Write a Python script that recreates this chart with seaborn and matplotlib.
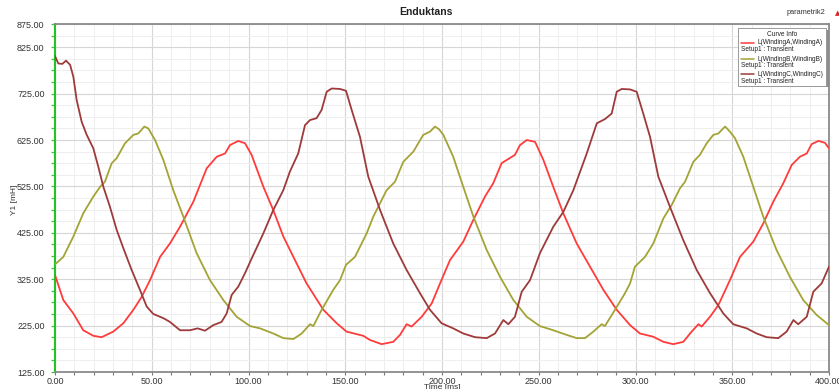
import numpy as np
import pandas as pd
import matplotlib
matplotlib.use("Agg")
import matplotlib.pyplot as plt
from matplotlib.patches import Rectangle
from matplotlib.lines import Line2D
from matplotlib.ticker import MultipleLocator, FixedLocator, FormatStrFormatter
import seaborn as sns

# Self-inductance of the three windings over one transient run
time_a = [0, 4.3, 9.5, 14.6, 19.8, 24.1, 30.1, 35.3, 40.5, 44.8, 49.1, 54.3, 59.4, 64.6, 71.5,
          78.4, 83.6, 87.9, 90.4, 94.7, 98.2, 101.6, 107.7, 112.8, 118, 123.2, 130, 138.7, 145.6,
          150.7, 159.3, 162.8, 168.8, 174.8, 178.3, 181.7, 184.3, 189.5, 194.7, 199, 204.1, 211,
          216.2, 222.2, 226.5, 230.8, 237.7, 240.3, 243.8, 248.1, 252.4, 257.5, 262.7, 269.6,
          276.5, 283.4, 290.3, 297.2, 302.3, 309.2, 314.4, 319.5, 324.7, 329, 332.5, 334.2, 338.5,
          342.8, 348.8, 354, 360.9, 366, 371.2, 376.4, 380.7, 385, 388.5, 391, 394.5, 397.9, 400]
ind_a = [334, 280, 251, 215, 203, 200, 212, 230, 259, 287, 323, 373, 402, 438, 492,
         564, 589, 596, 614, 623, 618, 593, 524, 474, 417, 373, 316, 259, 230,
         212, 203, 194, 185, 190, 205, 228, 223, 244, 273, 316, 366, 406,
         453, 503, 532, 575, 593, 614, 625, 621, 582, 524, 467, 402,
         352, 302, 259, 226, 208, 201, 190, 185, 190, 212, 228, 223, 244,
         269, 323, 373, 406, 445, 492, 532, 571, 589, 596, 616, 623, 619, 607]

time_b = [0, 4.3, 9.5, 14.6, 19.8, 23.3, 25.8, 29.3, 31.9, 36.2, 40.5, 43, 46.2, 48.2, 51.7,
          56, 61.1, 66.3, 73.2, 80.1, 87, 93.9, 100.8, 106, 112.8, 118, 123.2, 127.5, 131.8,
          133.5, 137.8, 143.8, 147.3, 150.4, 155, 161.1, 164.5, 171.4, 175.7, 180, 185.2, 190.3,
          193.8, 196.4, 198.5, 200.7, 205.8, 211, 216.2, 223.1, 230, 236.9, 243.8, 250.6, 257.5,
          264.4, 269.6, 273.9, 278.2, 282.5, 284.2, 289.4, 294.6, 297.2, 299.7, 304.9, 309.2,
          314.4, 318.7, 323, 325.6, 329.9, 333.3, 336.8, 340.2, 342.8, 346.3, 348.8, 351.4,
          355.7, 360.9, 366, 372.9, 379.8, 386.7, 393.6, 400]
ind_b = [357, 373, 417, 467, 503, 524, 535, 575, 586, 618, 636, 639, 654, 650, 625,
         582, 517, 460, 381, 323, 280, 244, 224, 219, 208, 198, 196, 208, 228,
         224, 259, 302, 323, 356, 373, 424, 460, 517, 535, 578, 600, 636,
         643, 654, 648, 636, 589, 524, 460, 388, 330, 280, 244, 224, 215,
         205, 198, 198, 212, 228, 224, 259, 295, 316, 352, 373, 402,
         456, 485, 521, 535, 578, 593, 618, 636, 639, 654, 643, 629,
         589, 524, 460, 388, 330, 280, 248, 226]

time_c = [0, 1.7, 3.8, 5.7, 7.8, 9.5, 11.2, 13.8, 16.4, 19.8, 22.4, 25, 28.4, 31.9, 35.3,
          39.6, 43.9, 47.4, 50.8, 56, 59.4, 64.6, 69.8, 73.7, 77.5, 81.8, 86.1, 88.7, 91.3,
          94.7, 98.2, 100.8, 107.7, 112.8, 118, 121.4, 125.7, 129.2, 131.8, 135.2, 137.8, 140.4,
          143, 147.3, 150.4, 153.3, 157.6, 161.9, 168, 174.8, 181.7, 188.6, 193.8, 199.8, 205.8,
          211, 217.1, 223.1, 227.4, 231.7, 234.3, 237.7, 241.2, 245.5, 250.6, 257.5, 262.7,
          267.9, 274.8, 280, 284.2, 287.7, 290.3, 292.9, 297.2, 300.6, 304, 307.5, 311.8, 317.8,
          324.7, 331.6, 338.5, 345.4, 350.5, 357.5, 362.6, 367.8, 373.8, 378.1, 381.6, 384.1,
          388.5, 391.9, 396.2, 400]
ind_c = [806, 790, 789, 796, 787, 761, 711, 664, 636, 607, 567, 524, 481, 431, 392,
         345, 302, 266, 250, 241, 233, 215, 215, 219, 214, 226, 233, 251, 291,
         309, 338, 362, 424, 474, 517, 557, 596, 657, 668, 672, 690, 729,
         736, 735, 731, 690, 632, 546, 474, 402, 345, 295, 259, 230, 219,
         208, 200, 198, 208, 237, 228, 244, 298, 323, 381, 438, 470,
         517, 596, 661, 670, 682, 729, 735, 734, 729, 682, 632, 546, 481,
         409, 345, 295, 251, 228, 219, 208, 200, 198, 212, 237, 228,
         244, 298, 316, 352]

curve_names = ["L(WindingA,WindingA)", "L(WindingB,WindingB)", "L(WindingC,WindingC)"]
curve_colors = ["#ff3b3b", "#a3a336", "#9e3a3a"]
y_ticks = [125, 225, 325, 425, 525, 625, 725, 825, 875]

sns.set_theme(style="white")
plt.rcParams["font.family"] = ["Liberation Sans", "DejaVu Sans"]
plt.rcParams["lines.solid_joinstyle"] = "round"
plt.rcParams["lines.solid_capstyle"] = "round"

fig = plt.figure(figsize=(8.39, 3.89), dpi=100)
ax = fig.add_axes([55 / 839, 1 - 372 / 389, 774 / 839, 348 / 389])

frames = []
for name, t, v in zip(curve_names, [time_a, time_b, time_c], [ind_a, ind_b, ind_c]):
    frames.append(pd.DataFrame({"time": t, "ind": v, "curve": name}))
data = pd.concat(frames, ignore_index=True)

sns.lineplot(data=data, x="time", y="ind", hue="curve", palette=curve_colors,
             hue_order=curve_names, sort=False, estimator=None, linewidth=1.3,
             legend=False, ax=ax, zorder=3)

ax.set_xlim(0, 400)
ax.set_ylim(125, 875)
ax.set_xlabel("")
ax.set_ylabel("")

ax.xaxis.set_major_locator(MultipleLocator(50))
ax.xaxis.set_minor_locator(MultipleLocator(10))
ax.xaxis.set_major_formatter(FormatStrFormatter("%.2f"))
ax.yaxis.set_major_locator(FixedLocator(y_ticks))
ax.yaxis.set_minor_locator(MultipleLocator(25))
ax.yaxis.set_major_formatter(FormatStrFormatter("%.2f"))

ax.grid(which="major", color="#d6d6d6", linewidth=0.8)
ax.grid(which="minor", color="#eeeeee", linewidth=0.7)
ax.set_axisbelow(True)

ax.tick_params(axis="x", which="both", direction="out", length=2, width=0.8,
               color="#777777", labelsize=6.5, labelcolor="#333333", pad=1.5,
               bottom=True)
ax.tick_params(axis="y", which="both", direction="out", length=3, width=0.9,
               color="#33cc33", labelsize=6.5, labelcolor="#333333", pad=4.5,
               left=True)

for side in ["top", "right", "bottom"]:
    ax.spines[side].set_color("#8a8a8a")
    ax.spines[side].set_linewidth(1.3)
ax.spines["left"].set_color("#22c322")
ax.spines["left"].set_linewidth(1.5)

# Curve info box in the top-right corner
tr = ax.transAxes
ax.add_patch(Rectangle((0.885, 0.818), 0.115, 0.165, transform=tr,
                       facecolor="#8c8c8c", edgecolor="none", zorder=5, clip_on=False))
ax.add_patch(Rectangle((0.882, 0.823), 0.114, 0.165, transform=tr,
                       facecolor="white", edgecolor="#9a9a9a", linewidth=0.7, zorder=6,
                       clip_on=False))
ax.text(0.9395, 0.971, "Curve Info", transform=tr, fontsize=4.7, ha="center",
        va="center", color="#222222", zorder=7)
entry_y = [0.946, 0.899, 0.855]
for yy, name, col in zip(entry_y, curve_names, curve_colors):
    ax.add_line(Line2D([0.886, 0.903], [yy, yy], transform=tr, color=col,
                       linewidth=1.1, zorder=7))
    ax.text(0.908, yy, name, transform=tr, fontsize=4.7, ha="left", va="center",
            color="#222222", zorder=7)
    ax.text(0.886, yy - 0.019, "Setup1 : Transient", transform=tr, fontsize=4.7,
            ha="left", va="center", color="#222222", zorder=7)

fig.text(426 / 839, 1 - 12 / 389, "Enduktans", fontsize=7.5, fontweight="bold",
         ha="center", va="center", color="#222222")
fig.text(806 / 839, 1 - 13 / 389, "parametrik2", fontsize=5.3, ha="center",
         va="center", color="#333333")
fig.text(835 / 839, 1 - 13 / 389, "\u25b2", fontsize=5, ha="left", va="center",
         color="#dd2222", family=["DejaVu Sans"])
fig.text(14 / 839, 1 - 200 / 389, "Y1 [mH]", fontsize=6, rotation=90, ha="center",
         va="center", color="#333333")
fig.text(442 / 839, 1 - 384 / 389, "Time [ms]", fontsize=6, ha="center", va="top",
         color="#333333")

fig.savefig("out.png", dpi=100)
